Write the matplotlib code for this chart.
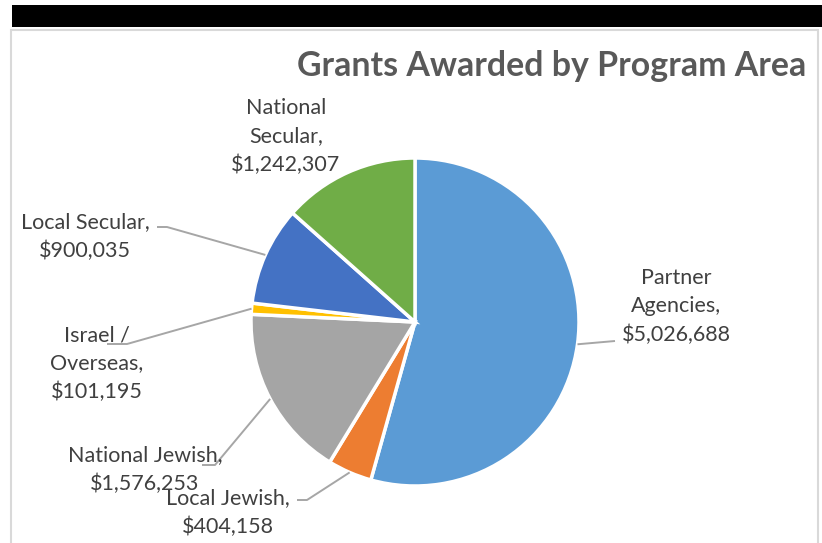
import numpy as np
import matplotlib
matplotlib.use('Agg')
import matplotlib.pyplot as plt
from matplotlib.patches import Rectangle

# ---- data ----
categories = ['Partner Agencies', 'Local Jewish', 'National Jewish',
              'Israel / Overseas', 'Local Secular', 'National Secular']
values = [5026688, 404158, 1576253, 101195, 900035, 1242307]
label_lines = [['Partner', 'Agencies,'], ['Local Jewish,'], ['National Jewish,'],
               ['Israel /', 'Overseas,'], ['Local Secular,'], ['National', 'Secular,']]
colors = ['#5B9BD5', '#ED7D31', '#A5A5A5', '#FFC000', '#4472C4', '#70AD47']
title = 'Grants Awarded by Program Area'

# ---- layout (pixels, y down) ----
W, H = 822, 543
CX, CY, R = 415, 322, 164
PITCH = 28.5
label_pos = [(676, 278), (228, 498), (145, 455), (97, 335), (85, 222), (286, 108)]
leader_pts = [[(615, 341)],
              [(307, 500), (297, 500)],
              [(215, 465), (202, 465)],
              [(127, 344), (107, 344)],
              [(167, 227), (157, 227)],
              None]

FONT = 'Lato'
LABEL_FS = 15.5
TITLE_FS = 24.4
TXT = '#404040'

fig = plt.figure(figsize=(W / 100, H / 100), dpi=100)
ax = fig.add_axes([0, 0, 1, 1])

ax.add_patch(Rectangle((12, 5), W - 12, 22, facecolor='black', edgecolor='none', zorder=1))
ax.add_patch(Rectangle((11, 29.5), 807, 600, facecolor='white', edgecolor='#D9D9D9',
                       linewidth=1.5, zorder=1))

# y axis inverted -> counterclockwise in data is clockwise on screen
ax.pie(values, colors=colors, startangle=-90, counterclock=True, center=(CX, CY),
       radius=R, wedgeprops=dict(edgecolor='white', linewidth=2.5), frame=True)

ax.set_xlim(0, W)
ax.set_ylim(H, 0)
ax.set_aspect('equal')
ax.axis('off')

total = float(sum(values))
cum = 0.0
for i, v in enumerate(values):
    frac = v / total
    mid = -90 + (cum + frac / 2) * 360
    cum += frac
    ex = CX + R * np.cos(np.radians(mid))
    ey = CY + R * np.sin(np.radians(mid))
    if leader_pts[i] is not None:
        xs = [ex] + [p[0] for p in leader_pts[i]]
        ys = [ey] + [p[1] for p in leader_pts[i]]
        ax.plot(xs, ys, color='#A6A6A6', lw=1.4, zorder=3, solid_capstyle='butt')
    lines = label_lines[i] + ['${:,}'.format(v)]
    lx, ly = label_pos[i]
    for k, s in enumerate(lines):
        ax.text(lx, ly + k * PITCH, s, ha='center', va='center', fontsize=LABEL_FS,
                color=TXT, family=FONT, zorder=4)

ax.text(806, 66, title, ha='right', va='center', fontsize=TITLE_FS, fontweight='bold',
        color='#595959', family=FONT, zorder=4)

fig.savefig('out.png', dpi=100, facecolor='white')
